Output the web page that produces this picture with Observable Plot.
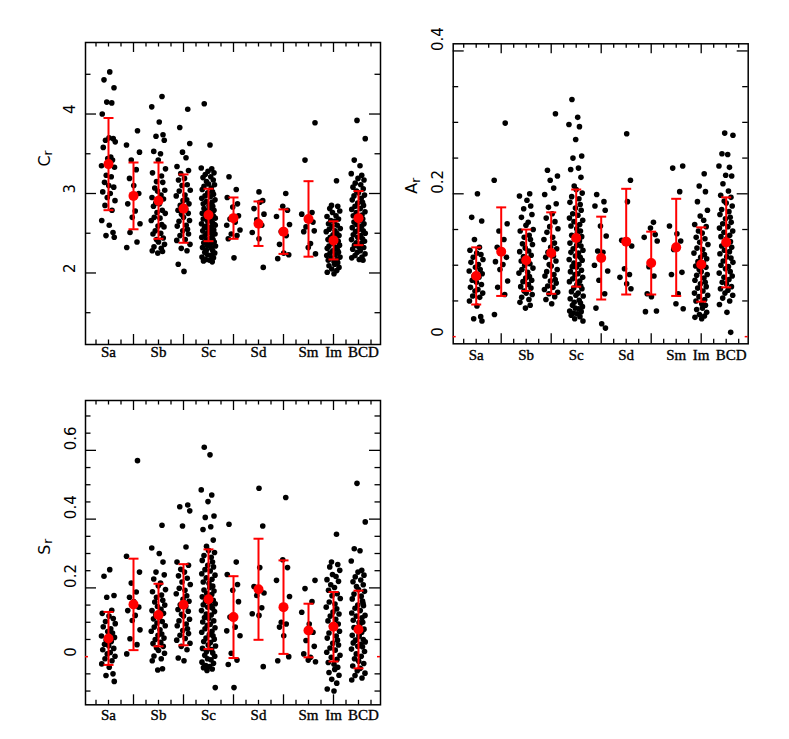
<!DOCTYPE html>
<html><head><meta charset="utf-8">
<script src="https://cdn.jsdelivr.net/npm/d3@7"></script>
<script src="https://cdn.jsdelivr.net/npm/@observablehq/plot@0.6"></script>
<style>
html,body{margin:0;padding:0;background:#fff;}
#chart{position:relative;width:789px;height:739px;background:#fff;overflow:hidden;}
#chart svg{position:absolute;overflow:visible;}
</style></head><body><div id="chart"></div>
<script>
// Morphological types (x positions 1..11)
const TYPES = ["Sa","Sab","Sb","Sbc","Sc","Scd","Sd","Sdm","Sm","Im","BCD"];
const X_LABELS = ["Sa","Sb","Sc","Sd","Sm","Im","BCD"];
const X_LABEL_POS = [1,3,5,7,9,10,11.2];
const X_MAJOR = [2,4,6,8,10];
const X_MINOR = [0.5,1,1.5,2.5,3,3.5,4.5,5,5.5,6.5,7,7.5,8.5,9,9.5,10.5,11,11.5];

// horizontal scatter of the points inside each type column (type units)
const JITTER = [0.05,-0.18,0.22,-0.07,0.13,-0.25,0.02,0.19,-0.12,0.27,-0.21,0.09,-0.03,0.16,-0.28,0.24,-0.09,0.11,-0.16,0.01,
  0.21,-0.23,0.07,-0.05,0.26,-0.14,0.14,-0.27,0.03,0.18,-0.1,0.23,-0.19,0.08,-0.01,0.28,-0.24,0.12,-0.08,0.17,
  -0.15,0.25,-0.04,0.1,-0.26,0.2,-0.11,0.04,-0.2,0.15,-0.06,0.27,-0.17,0.06,-0.29,0.13,-0.02,0.22,-0.13,0.09,
  -0.22,0.19,-0.08,0.0,0.24,-0.18,0.11,-0.25,0.16,-0.03,0.2,-0.14,0.07,-0.27,0.26,-0.09,0.14,-0.21,0.02,0.17];

// ---- C_r ----
const CR_POINTS = [
 [4.53,4.43,4.33,4.15,4.14,4.00,3.70,3.69,3.67,3.65,3.58,3.46,3.44,3.42,3.35,3.33,3.23,3.21,3.14,3.10,3.08,3.02,3.00,2.95,2.91,2.85,2.79,2.66,2.60,2.51,2.47,2.45],
 [3.79,3.61,3.52,3.42,3.30,3.19,3.10,3.00,2.87,2.78,2.70,2.62,2.51,2.39,2.32],
 [4.22,4.09,3.90,3.74,3.72,3.67,3.53,3.50,3.42,3.31,3.26,3.22,3.15,3.14,3.07,3.04,3.03,2.98,2.95,2.93,2.88,2.87,2.84,2.79,2.76,2.75,2.70,2.69,2.66,2.61,2.59,2.58,2.53,2.50,2.49,2.44,2.42,2.39,2.36,2.33,2.31,2.28,2.27,2.25],
 [4.06,3.83,3.63,3.52,3.45,3.34,3.29,3.25,3.19,3.17,3.11,3.10,3.04,3.03,2.98,2.97,2.92,2.91,2.87,2.85,2.80,2.79,2.75,2.74,2.70,2.66,2.65,2.60,2.59,2.55,2.53,2.49,2.47,2.42,2.41,2.36,2.31,2.28,2.11,2.02],
 [4.13,3.61,3.32,3.31,3.28,3.26,3.24,3.21,3.20,3.17,3.15,3.12,3.11,3.09,3.07,3.05,3.02,3.01,2.99,2.97,2.96,2.94,2.92,2.90,2.89,2.87,2.85,2.84,2.82,2.81,2.79,2.78,2.76,2.75,2.73,2.72,2.70,2.69,2.68,2.66,2.65,2.63,2.62,2.61,2.59,2.58,2.57,2.55,2.54,2.53,2.51,2.50,2.49,2.47,2.46,2.45,2.43,2.42,2.41,2.39,2.38,2.36,2.35,2.34,2.32,2.31,2.29,2.28,2.26,2.25,2.23,2.22,2.20,2.19,2.17,2.16,2.15,2.14,2.35,2.60],
 [3.21,3.05,2.95,2.87,2.83,2.72,2.68,2.64,2.60,2.54,2.49,2.47,2.43,2.19],
 [3.02,2.91,2.89,2.81,2.74,2.67,2.60,2.51,2.43,2.07],
 [3.00,2.84,2.79,2.71,2.61,2.52,2.47,2.36,2.25,2.23,2.18],
 [3.89,3.42,2.76,2.74,2.66,2.64,2.58,2.53,2.52,2.37,2.32,2.24],
 [3.16,2.85,2.84,2.81,2.78,2.76,2.72,2.71,2.68,2.66,2.65,2.62,2.60,2.59,2.56,2.55,2.53,2.52,2.50,2.48,2.47,2.45,2.43,2.42,2.40,2.39,2.37,2.35,2.34,2.32,2.31,2.29,2.28,2.26,2.25,2.23,2.22,2.20,2.19,2.17,2.16,2.14,2.13,2.11,2.09,2.07,2.05,2.03,2.01,1.99],
 [3.92,3.69,3.42,3.35,3.25,3.23,3.19,3.17,3.13,3.11,3.08,3.06,3.03,3.01,2.98,2.97,2.94,2.92,2.89,2.88,2.85,2.84,2.81,2.80,2.77,2.76,2.73,2.72,2.69,2.68,2.66,2.64,2.62,2.61,2.59,2.57,2.55,2.53,2.52,2.50,2.48,2.47,2.45,2.43,2.42,2.40,2.38,2.37,2.35,2.33,2.32,2.30,2.28,2.26,2.24,2.22,2.20,2.19,2.17,2.16]
];
const CR_MEAN = [3.37,2.97,2.91,2.81,2.73,2.69,2.62,2.52,2.68,2.41,2.69];
const CR_SD   = [0.58,0.42,0.48,0.43,0.33,0.26,0.28,0.28,0.475,0.24,0.34];
const CR_TICKS = [2,3,4];
const CR_MINOR = [1.5,2.5,3.5,4.5];

// ---- A_r ----
const AR_POINTS = [
 [0.200,0.167,0.162,0.136,0.125,0.121,0.117,0.115,0.111,0.108,0.104,0.101,0.097,0.094,0.092,0.088,0.085,0.083,0.079,0.076,0.073,0.069,0.066,0.064,0.061,0.057,0.055,0.050,0.043,0.028,0.025,0.022],
 [0.299,0.219,0.158,0.148,0.136,0.125,0.120,0.111,0.105,0.101,0.094,0.078,0.069,0.059,0.031],
 [0.200,0.197,0.191,0.183,0.179,0.171,0.167,0.160,0.156,0.150,0.148,0.142,0.139,0.136,0.130,0.129,0.124,0.120,0.119,0.114,0.112,0.108,0.106,0.102,0.100,0.096,0.094,0.090,0.089,0.084,0.082,0.079,0.077,0.073,0.070,0.068,0.064,0.061,0.059,0.055,0.052,0.048,0.044,0.040],
 [0.312,0.233,0.225,0.219,0.208,0.199,0.186,0.181,0.172,0.166,0.161,0.154,0.151,0.146,0.139,0.136,0.131,0.125,0.123,0.118,0.113,0.111,0.106,0.101,0.099,0.094,0.091,0.087,0.085,0.080,0.078,0.075,0.071,0.069,0.066,0.062,0.060,0.056,0.052,0.046],
 [0.332,0.307,0.297,0.294,0.276,0.253,0.250,0.236,0.234,0.223,0.211,0.206,0.201,0.196,0.193,0.188,0.185,0.180,0.177,0.172,0.170,0.166,0.163,0.161,0.157,0.155,0.151,0.148,0.146,0.142,0.140,0.136,0.134,0.131,0.128,0.127,0.123,0.121,0.118,0.117,0.113,0.111,0.108,0.107,0.103,0.101,0.098,0.097,0.093,0.091,0.088,0.087,0.083,0.081,0.078,0.077,0.073,0.071,0.068,0.067,0.063,0.061,0.058,0.057,0.053,0.051,0.048,0.047,0.044,0.042,0.040,0.039,0.036,0.035,0.033,0.032,0.030,0.028,0.025,0.022],
 [0.199,0.189,0.183,0.177,0.155,0.141,0.120,0.118,0.100,0.092,0.079,0.060,0.040,0.018,0.012],
 [0.284,0.219,0.189,0.135,0.127,0.095,0.087,0.083,0.074,0.067],
 [0.160,0.152,0.143,0.139,0.134,0.098,0.085,0.060,0.056,0.036,0.035],
 [0.239,0.236,0.203,0.155,0.144,0.134,0.122,0.090,0.087,0.060,0.046,0.039],
 [0.228,0.211,0.203,0.189,0.177,0.169,0.163,0.157,0.154,0.148,0.145,0.139,0.137,0.132,0.129,0.124,0.122,0.117,0.115,0.111,0.109,0.105,0.103,0.099,0.097,0.094,0.091,0.087,0.086,0.082,0.079,0.076,0.074,0.070,0.068,0.064,0.061,0.058,0.056,0.052,0.050,0.046,0.044,0.040,0.038,0.034,0.031,0.029,0.027,0.025],
 [0.285,0.282,0.256,0.255,0.239,0.237,0.226,0.225,0.214,0.204,0.198,0.195,0.190,0.187,0.183,0.178,0.175,0.171,0.167,0.165,0.160,0.158,0.154,0.152,0.148,0.146,0.142,0.140,0.137,0.133,0.131,0.127,0.125,0.121,0.119,0.116,0.112,0.110,0.106,0.104,0.100,0.098,0.095,0.091,0.089,0.085,0.083,0.080,0.076,0.074,0.070,0.067,0.065,0.061,0.058,0.054,0.050,0.045,0.034,0.006]
];
const AR_MEAN = [0.085,0.119,0.107,0.117,0.138,0.110,0.133,0.103,0.125,0.101,0.132];
const AR_SD   = [0.040,0.062,0.043,0.057,0.068,0.058,0.074,0.044,0.068,0.052,0.063];
const AR_TICKS = [0.2,0.4];
const AR_LABELS = [0,0.2,0.4];
const AR_MINOR = [0.05,0.1,0.15,0.25,0.3,0.35];

// ---- S_r ----
const SR_POINTS = [
 [0.253,0.234,0.178,0.173,0.135,0.126,0.118,0.111,0.102,0.096,0.087,0.081,0.073,0.069,0.060,0.056,0.048,0.044,0.036,0.032,0.024,0.020,0.012,0.008,0.001,-0.006,-0.012,-0.021,-0.031,-0.050,-0.055,-0.072],
 [0.570,0.292,0.246,0.214,0.188,0.173,0.160,0.144,0.134,0.120,0.105,0.078,0.052,0.035,0.008],
 [0.382,0.316,0.300,0.275,0.246,0.238,0.226,0.214,0.206,0.195,0.189,0.179,0.173,0.164,0.159,0.150,0.146,0.138,0.134,0.126,0.122,0.114,0.110,0.102,0.098,0.090,0.086,0.078,0.074,0.066,0.062,0.054,0.050,0.042,0.038,0.030,0.026,0.018,0.010,0.002,-0.006,-0.012,-0.035,-0.039],
 [0.441,0.436,0.424,0.380,0.319,0.275,0.266,0.254,0.246,0.235,0.228,0.217,0.210,0.199,0.193,0.183,0.177,0.167,0.161,0.151,0.146,0.137,0.132,0.123,0.118,0.109,0.104,0.095,0.090,0.081,0.076,0.067,0.062,0.053,0.048,0.039,0.030,0.020,-0.004,-0.012],
 [0.609,0.587,0.485,0.470,0.451,0.409,0.405,0.378,0.370,0.339,0.321,0.309,0.303,0.294,0.289,0.280,0.275,0.266,0.261,0.253,0.249,0.241,0.237,0.229,0.225,0.217,0.213,0.205,0.201,0.194,0.191,0.184,0.181,0.174,0.171,0.164,0.161,0.154,0.151,0.149,0.144,0.141,0.134,0.131,0.124,0.121,0.114,0.111,0.104,0.101,0.094,0.091,0.084,0.081,0.074,0.071,0.064,0.061,0.054,0.051,0.044,0.041,0.034,0.031,0.024,0.021,0.014,0.011,0.004,0.001,-0.006,-0.009,-0.016,-0.019,-0.026,-0.029,-0.032,-0.036,-0.040,-0.090],
 [0.385,0.275,0.239,0.210,0.193,0.160,0.115,0.086,0.075,0.061,0.010,-0.010,-0.023,-0.090],
 [0.490,0.380,0.259,0.204,0.185,0.178,0.142,0.125,0.120,-0.029],
 [0.463,0.282,0.259,0.222,0.175,0.100,0.095,0.086,0.061,0.000,-0.012],
 [0.222,0.198,0.160,0.129,0.095,0.071,0.047,0.030,0.008,-0.002,-0.010,-0.015],
 [0.356,0.275,0.268,0.261,0.251,0.239,0.233,0.224,0.219,0.209,0.201,0.193,0.183,0.177,0.169,0.159,0.153,0.144,0.139,0.130,0.124,0.118,0.109,0.104,0.095,0.089,0.083,0.074,0.069,0.060,0.054,0.048,0.039,0.034,0.025,0.019,0.013,0.004,-0.002,-0.008,-0.017,-0.022,-0.031,-0.037,-0.046,-0.054,-0.066,-0.077,-0.094,-0.100],
 [0.504,0.392,0.314,0.308,0.278,0.251,0.246,0.237,0.232,0.223,0.218,0.209,0.204,0.195,0.190,0.182,0.176,0.168,0.162,0.150,0.148,0.141,0.134,0.127,0.120,0.118,0.113,0.106,0.099,0.100,0.092,0.085,0.080,0.078,0.071,0.062,0.059,0.050,0.048,0.043,0.040,0.036,0.030,0.029,0.022,0.015,0.008,0.001,-0.006,-0.013,-0.020,-0.027,-0.034,-0.041,-0.048,-0.055,-0.062,-0.068,0.064,0.155]
];
const SR_MEAN = [0.053,0.152,0.121,0.151,0.167,0.115,0.196,0.144,0.076,0.087,0.079];
const SR_SD   = [0.077,0.133,0.091,0.118,0.145,0.119,0.147,0.136,0.078,0.101,0.113];
const SR_TICKS = [0.2,0.4,0.6];
const SR_LABELS = [0,0.2,0.4,0.6];
const SR_MINOR = [-0.1,-0.05,0.05,0.1,0.15,0.25,0.3,0.35,0.45,0.5,0.55,0.65,0.7];

const SANS = "DejaVu Sans, sans-serif";
const SERIF = "Liberation Serif, serif";

function panel(cfg) {
  const {points, mean, sd, yDomain, majorY, minorY, labelsY, title, titleDy,
         zero, left, top, width, height, ml, mr, mt, mb, xLabelDy, yLabelDx} = cfg;
  const fw = width - ml - mr, fh = height - mt - mb;
  const pts = points.flatMap((col, i) => col.map((v, j) => ({
    x: i + 1 + JITTER[(j + 13 * i) % JITTER.length], y: v
  })));
  const stats = mean.map((m, i) => ({x: i + 1, m, lo: m - sd[i], hi: m + sd[i]}));
  const xl = X_LABELS.map((t, i) => ({x: X_LABEL_POS[i], t}));
  const tk = {stroke: "black", strokeWidth: 1.3};
  const marks = [
    Plot.dot(pts, {x: "x", y: "y", r: 2.8, fill: "black"}),
    Plot.ruleX(stats, {x: "x", y1: "lo", y2: "hi", stroke: "#ff0000", strokeWidth: 2}),
    Plot.link(stats, {x1: d => d.x - 0.2, x2: d => d.x + 0.2, y1: "hi", y2: "hi", stroke: "#ff0000", strokeWidth: 2}),
    Plot.link(stats, {x1: d => d.x - 0.2, x2: d => d.x + 0.2, y1: "lo", y2: "lo", stroke: "#ff0000", strokeWidth: 2}),
    Plot.dot(stats, {x: "x", y: "m", r: 5, fill: "#ff0000"}),
    // x ticks (bottom and top, inward)
    Plot.ruleX(X_MAJOR, {...tk, insetTop: fh - 10}),
    Plot.ruleX(X_MAJOR, {...tk, insetBottom: fh - 10}),
    Plot.ruleX(X_MINOR, {...tk, insetTop: fh - 4.5}),
    Plot.ruleX(X_MINOR, {...tk, insetBottom: fh - 4.5}),
    // y ticks (left and right, inward)
    Plot.ruleY(majorY, {...tk, insetRight: fw - 11}),
    Plot.ruleY(majorY, {...tk, insetLeft: fw - 11}),
    Plot.ruleY(minorY, {...tk, insetRight: fw - 5.5}),
    Plot.ruleY(minorY, {...tk, insetLeft: fw - 5.5}),
    Plot.frame({stroke: "black", strokeWidth: 1.5}),
    // tick labels
    Plot.text(xl, {x: "x", text: "t", frameAnchor: "bottom", dy: xLabelDy,
      fontFamily: SERIF, fontSize: 15, fill: "black", stroke: "black", strokeWidth: 0.35}),
    Plot.text(labelsY, {y: d => d, text: d => String(d), frameAnchor: "left", dx: yLabelDx,
      rotate: -90, fontFamily: SANS, fontSize: 15, fill: "black"}),
    // axis title with subscript
    Plot.text([title], {text: d => d, frameAnchor: "left", dx: -41, dy: titleDy, rotate: -90,
      fontFamily: SANS, fontSize: 16, fill: "black"}),
    Plot.text(["r"], {text: d => d, frameAnchor: "left", dx: -37.5, dy: titleDy - 11, rotate: -90,
      fontFamily: SANS, fontSize: 12, fill: "black"})
  ];
  if (zero) {
    marks.push(Plot.ruleY([0], {stroke: "#ff0000", strokeWidth: 1.5, insetRight: fw - 3}));
    marks.push(Plot.ruleY([0], {stroke: "#ff0000", strokeWidth: 1.5, insetLeft: fw - 3}));
  }
  const svg = Plot.plot({
    width, height, marginLeft: ml, marginRight: mr, marginTop: mt, marginBottom: mb,
    x: {domain: [0.08, 11.88], axis: null},
    y: {domain: yDomain, axis: null},
    style: {background: "transparent", overflow: "visible"},
    marks
  });
  svg.style.left = left + "px";
  svg.style.top = top + "px";
  document.getElementById("chart").appendChild(svg);
}

panel({points: CR_POINTS, mean: CR_MEAN, sd: CR_SD, yDomain: [1.1, 4.9],
  majorY: CR_TICKS, minorY: CR_MINOR, labelsY: CR_TICKS, title: "C", titleDy: -27, zero: false,
  left: 0, top: 0, width: 395, height: 370, ml: 85, mr: 15, mt: 42, mb: 26, xLabelDy: 12, yLabelDx: -15});

panel({points: AR_POINTS, mean: AR_MEAN, sd: AR_SD, yDomain: [-0.01, 0.41],
  majorY: AR_TICKS, minorY: AR_MINOR, labelsY: AR_LABELS, title: "A", titleDy: 0, zero: true,
  left: 395, top: 0, width: 394, height: 370, ml: 57.7, mr: 41.3, mt: 43.3, mb: 26.7, xLabelDy: 16, yLabelDx: -15});

panel({points: SR_POINTS, mean: SR_MEAN, sd: SR_SD, yDomain: [-0.14, 0.745],
  majorY: SR_TICKS, minorY: SR_MINOR, labelsY: SR_LABELS, title: "S", titleDy: 2, zero: true,
  left: 0, top: 370, width: 395, height: 369, ml: 85, mr: 15, mt: 30, mb: 34.7, xLabelDy: 15, yLabelDx: -14});
</script></body></html>
